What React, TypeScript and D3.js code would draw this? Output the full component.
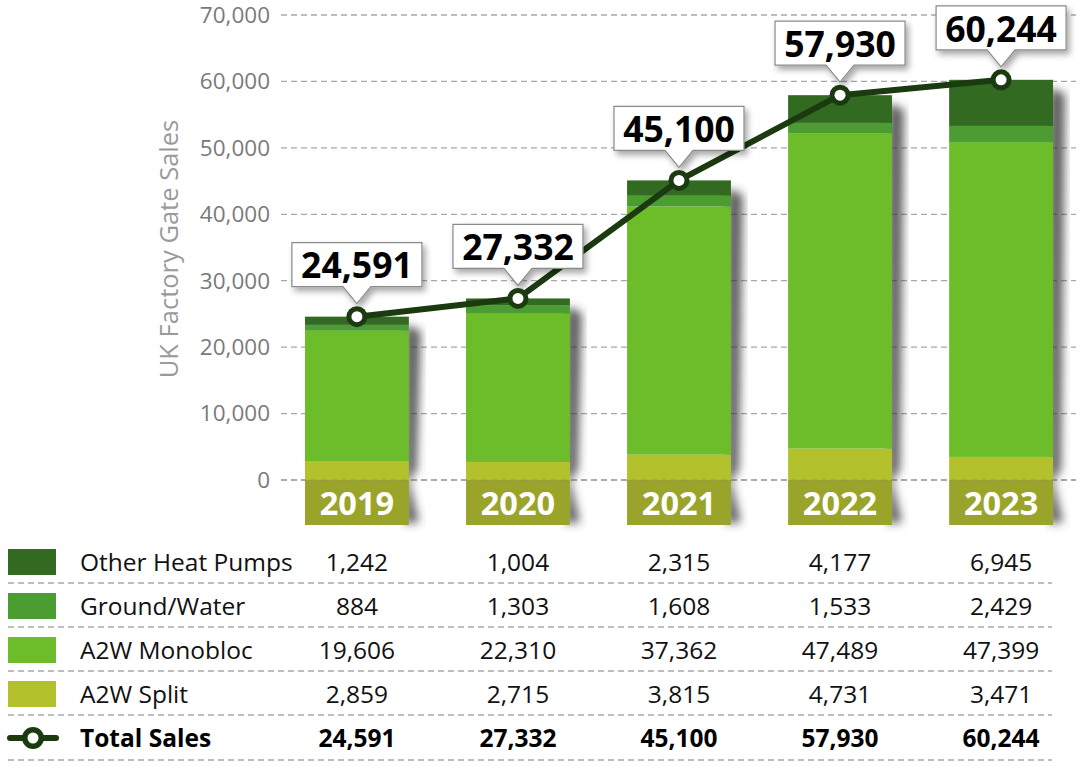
import React from "react";
import * as d3 from "d3";

const years = ["2019", "2020", "2021", "2022", "2023"];
const otherHeatPumps = [1242, 1004, 2315, 4177, 6945];
const groundWater = [884, 1303, 1608, 1533, 2429];
const a2wMonobloc = [19606, 22310, 37362, 47489, 47399];
const a2wSplit = [2859, 2715, 3815, 4731, 3471];
const totalSales = [24591, 27332, 45100, 57930, 60244];
const yTicks = [0, 10000, 20000, 30000, 40000, 50000, 60000, 70000];

const seriesNames = ["A2W Split", "A2W Monobloc", "Ground/Water", "Other Heat Pumps"];
const seriesValues = [a2wSplit, a2wMonobloc, groundWater, otherHeatPumps];
const seriesColors = ["#b3c22c", "#6dbd2a", "#4b9c31", "#336a21"];

const W = 1080;
const H = 772;
const FONT = "'Open Sans', 'Noto Sans', sans-serif";

export default function App() {
  const x = d3.scaleBand<string>().domain(years).range([276, 1082]).paddingInner(0.355).paddingOuter(0.18);
  const y = d3.scaleLinear().domain([0, 70000]).range([480, 15]);
  const fmt = d3.format(",");
  const bw = x.bandwidth();
  const cx = (yr: string) => (x(yr) as number) + bw / 2;

  const rows = years.map((yr, i) => {
    const r: any = { year: yr };
    seriesNames.forEach((n, k) => (r[n] = seriesValues[k][i]));
    return r;
  });
  const stack = d3.stack<any>().keys(seriesNames)(rows);

  const line = d3
    .line<number>()
    .x((_, i) => cx(years[i]))
    .y((v) => y(v));

  const tableRows = [
    { name: "Other Heat Pumps", values: otherHeatPumps, color: seriesColors[3] },
    { name: "Ground/Water", values: groundWater, color: seriesColors[2] },
    { name: "A2W Monobloc", values: a2wMonobloc, color: seriesColors[1] },
    { name: "A2W Split", values: a2wSplit, color: seriesColors[0] },
  ];
  const rowY = [562, 606, 650, 694, 738];
  const sepY = [583, 627, 671, 715, 760];
  const TFS = 24.5;

  return (
    <svg width={W} height={H} style={{ position: "absolute", left: 0, top: 0, background: "#fff" }} fontFamily={FONT}>
      <defs>
        <filter id="barShadow" x="-30%" y="-10%" width="160%" height="130%">
          <feGaussianBlur stdDeviation="5" />
        </filter>
        <filter id="boxShadow" x="-20%" y="-30%" width="150%" height="180%">
          <feDropShadow dx="3" dy="4" stdDeviation="3" floodColor="#000" floodOpacity="0.35" />
        </filter>
      </defs>

      {/* Y axis title */}
      <text
        transform={`translate(178,249) rotate(-90)`}
        textAnchor="middle"
        fontSize={25.5}
        fill="#9a9a9a"
      >
        UK Factory Gate Sales
      </text>

      {/* grid + ticks */}
      {yTicks.map((t) => (
        <g key={t}>
          <line x1={281} x2={1076} y1={y(t)} y2={y(t)} stroke="#a8a8a8" strokeWidth={1.3} strokeDasharray="6,4" />
          <text x={270} y={y(t)} dy="0.35em" textAnchor="end" fontSize={22.5} fill="#7a7a7a">
            {fmt(t)}
          </text>
        </g>
      ))}

      {/* bar shadows */}
      {years.map((yr, i) => {
        const bx = x(yr) as number;
        const top = y(totalSales[i]);
        return (
          <g key={"sh" + yr} filter="url(#barShadow)">
            <polygon
              points={`${bx + bw - 4},${top + 8} ${bx + bw + 12},${top + 14} ${bx + bw + 8},${y(0) - 10} ${bx + bw},${y(0)} ${bx + bw + 10},${y(0) + 42} ${bx + bw - 4},${y(0) + 44}`}
              fill="#3a3a3a"
              opacity={0.8}
            />
          </g>
        );
      })}

      {/* stacked bars */}
      {stack.map((s, k) => (
        <g key={s.key} fill={seriesColors[k]}>
          {s.map((d, i) => (
            <rect key={i} x={x(years[i]) as number} y={y(d[1])} width={bw} height={y(d[0]) - y(d[1])} />
          ))}
        </g>
      ))}

      {/* year labels below zero */}
      {years.map((yr) => (
        <g key={"yl" + yr}>
          <rect x={x(yr) as number} y={y(0)} width={bw} height={45} fill="#9ba42a" />
          <text x={cx(yr)} y={y(0) + 23} dy="0.36em" textAnchor="middle" fontSize={32.5} fontWeight={700} fill="#fff">
            {yr}
          </text>
        </g>
      ))}

      {/* zero grid line over bars */}
      <line x1={281} x2={1076} y1={y(0)} y2={y(0)} stroke="#8a8a6a" strokeOpacity={0.5} strokeWidth={1.3} strokeDasharray="6,4" />

      {/* total line */}
      <path d={line(totalSales) as string} fill="none" stroke="#1b3a10" strokeWidth={6} strokeLinejoin="round" />

      {/* callouts */}
      {years.map((yr, i) => {
        const px = cx(yr);
        const py = y(totalSales[i]);
        const bwid = 130;
        const bh = 44;
        const bTop = py - 74;
        const bBot = py - 30;
        const l = px - bwid / 2;
        const r = px + bwid / 2;
        const path = `M${l},${bTop} H${r} V${bBot} H${px + 14} L${px},${py - 13} L${px - 14},${bBot} H${l} Z`;
        return (
          <g key={"co" + yr}>
            <path d={path} fill="#fff" stroke="#8a8a8a" strokeWidth={1.2} filter="url(#boxShadow)" />
            <text x={px} y={bTop + bh / 2 + 1} dy="0.36em" textAnchor="middle" fontSize={35.5} fontWeight={700} fill="#000">
              {fmt(totalSales[i])}
            </text>
          </g>
        );
      })}

      {/* markers */}
      {years.map((yr, i) => (
        <g key={"m" + yr}>
          <circle cx={cx(yr)} cy={y(totalSales[i])} r={10.5} fill="#1b3a10" />
          <circle cx={cx(yr)} cy={y(totalSales[i])} r={5.5} fill="#fff" />
        </g>
      ))}

      {/* table */}
      {tableRows.map((row, j) => (
        <g key={row.name}>
          <rect x={8} y={rowY[j] - 13} width={48} height={26} fill={row.color} />
          <text x={80} y={rowY[j]} dy="0.36em" fontSize={TFS} fill="#111">
            {row.name}
          </text>
          {row.values.map((v, i) => (
            <text key={i} x={cx(years[i])} y={rowY[j]} dy="0.36em" textAnchor="middle" fontSize={TFS} fill="#111">
              {fmt(v)}
            </text>
          ))}
        </g>
      ))}
      <g>
        <line x1={10} x2={56} y1={rowY[4]} y2={rowY[4]} stroke="#1b3a10" strokeWidth={6} strokeLinecap="round" />
        <circle cx={33} cy={rowY[4]} r={11} fill="#1b3a10" />
        <circle cx={33} cy={rowY[4]} r={5.5} fill="#fff" />
        <text x={80} y={rowY[4]} dy="0.36em" fontSize={TFS} fontWeight={700} fill="#000">
          Total Sales
        </text>
        {totalSales.map((v, i) => (
          <text key={i} x={cx(years[i])} y={rowY[4]} dy="0.36em" textAnchor="middle" fontSize={TFS} fontWeight={700} fill="#000">
            {fmt(v)}
          </text>
        ))}
      </g>
      {sepY.map((sy) => (
        <line key={sy} x1={8} x2={1052} y1={sy} y2={sy} stroke="#a8a8a8" strokeWidth={1.3} strokeDasharray="6,4" />
      ))}
    </svg>
  );
}
